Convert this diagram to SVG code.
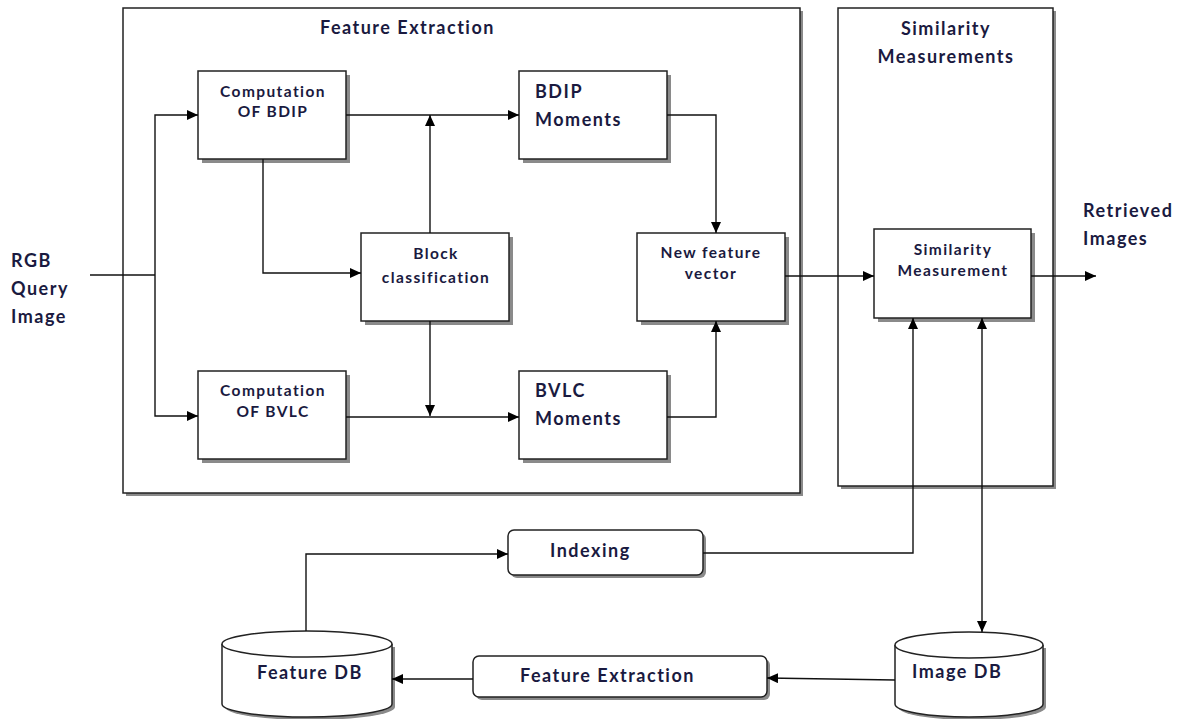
<svg xmlns="http://www.w3.org/2000/svg" width="1187" height="719" viewBox="0 0 1187 719">
<defs>
<marker id="arr" markerUnits="userSpaceOnUse" markerWidth="12" markerHeight="10" refX="11" refY="5" orient="auto">
<path d="M0,0 L11,5 L0,10 Z" fill="#000"/>
</marker>
<marker id="arrs" markerUnits="userSpaceOnUse" markerWidth="12" markerHeight="10" refX="11" refY="5" orient="auto-start-reverse">
<path d="M0,0 L11,5 L0,10 Z" fill="#000"/>
</marker>
</defs>
<style>
.box{fill:#fff;stroke:#222;stroke-width:1.5}
.sh{fill:#8a8a8a}
.t{font-family:Lato,"Liberation Sans",sans-serif;font-weight:bold;fill:#1a1a40}
.s{font-size:15.5px;letter-spacing:1.4px}
.m{font-size:18px;letter-spacing:1.5px}
.c{text-anchor:middle}
.ln{fill:none;stroke:#111;stroke-width:1.4}
</style>
<rect width="1187" height="719" fill="#fff"/>

<g id="feature-extraction-panel">
<rect class="sh" x="126" y="11" width="677" height="485"/>
<rect class="box" x="123" y="8" width="677" height="485"/>
<text class="t m" x="320" y="34">Feature Extraction</text>
</g>

<g id="similarity-panel">
<rect class="sh" x="841" y="11" width="215" height="478"/>
<rect class="box" x="838" y="8" width="215" height="478"/>
<text class="t m c" x="946" y="35">Similarity</text>
<text class="t m c" x="946" y="63">Measurements</text>
</g>

<g id="comp-bdip">
<rect class="sh" x="202" y="75" width="148" height="88"/>
<rect class="box" x="198" y="71" width="148" height="88"/>
<text class="t s c" x="273" y="97">Computation</text>
<text class="t s c" x="273" y="117">OF BDIP</text>
</g>

<g id="bdip-moments">
<rect class="sh" x="523" y="75" width="148" height="88"/>
<rect class="box" x="519" y="71" width="148" height="88"/>
<text class="t m" x="535" y="98">BDIP</text>
<text class="t m" x="535" y="126">Moments</text>
</g>

<g id="block-classification">
<rect class="sh" x="365" y="237" width="148" height="88"/>
<rect class="box" x="361" y="233" width="148" height="88"/>
<text class="t s c" x="436" y="259">Block</text>
<text class="t s c" x="436" y="283">classification</text>
</g>

<g id="new-feature-vector">
<rect class="sh" x="641" y="237" width="148" height="88"/>
<rect class="box" x="637" y="233" width="148" height="88"/>
<text class="t s c" x="711" y="258">New feature</text>
<text class="t s c" x="711" y="279">vector</text>
</g>

<g id="comp-bvlc">
<rect class="sh" x="202" y="375" width="148" height="88"/>
<rect class="box" x="198" y="371" width="148" height="88"/>
<text class="t s c" x="273" y="396">Computation</text>
<text class="t s c" x="273" y="417">OF BVLC</text>
</g>

<g id="bvlc-moments">
<rect class="sh" x="523" y="375" width="148" height="88"/>
<rect class="box" x="519" y="371" width="148" height="88"/>
<text class="t m" x="535" y="397">BVLC</text>
<text class="t m" x="535" y="425">Moments</text>
</g>

<g id="similarity-measurement">
<rect class="sh" x="878" y="233" width="157" height="89"/>
<rect class="box" x="874" y="229" width="157" height="89"/>
<text class="t s c" x="953" y="255">Similarity</text>
<text class="t s c" x="953" y="276">Measurement</text>
</g>

<g id="indexing">
<rect class="sh" x="511" y="533" width="195" height="45" rx="6"/>
<rect class="box" x="508" y="530" width="195" height="45" rx="6"/>
<text class="t m" x="550" y="557">Indexing</text>
</g>

<g id="feature-extraction-db">
<rect class="sh" x="476" y="659" width="294" height="41" rx="6"/>
<rect class="box" x="473" y="656" width="294" height="41" rx="6"/>
<text class="t m" x="520" y="682">Feature Extraction</text>
</g>

<g id="feature-db">
<path class="sh" d="M225,647 L225,707 A85,13 0 0 0 395,707 L395,647 Z"/>
<path class="box" d="M222,644 L222,704 A85,13 0 0 0 392,704 L392,644"/>
<ellipse class="box" cx="307" cy="644" rx="85" ry="13"/>
<text class="t m" x="257" y="679">Feature DB</text>
</g>

<g id="image-db">
<path class="sh" d="M898,648 L898,707 A74,13 0 0 0 1046,707 L1046,648 Z"/>
<path class="box" d="M895,645 L895,704 A74,13 0 0 0 1043,704 L1043,645"/>
<ellipse class="box" cx="969" cy="645" rx="74" ry="13"/>
<text class="t m" x="912" y="678">Image DB</text>
</g>

<g id="labels">
<text class="t m" x="11" y="267">RGB</text>
<text class="t m" x="11" y="295">Query</text>
<text class="t m" x="11" y="323">Image</text>
<text class="t m" x="1083" y="217">Retrieved</text>
<text class="t m" x="1083" y="245">Images</text>
</g>

<g id="connectors">
<path class="ln" d="M90,275 H155"/>
<path class="ln" d="M155,275 V115 H198" marker-end="url(#arr)"/>
<path class="ln" d="M155,275 V416 H198" marker-end="url(#arr)"/>
<path class="ln" d="M346,115 H519" marker-end="url(#arr)"/>
<path class="ln" d="M430,233 V115" marker-end="url(#arr)"/>
<path class="ln" d="M263,159 V273 H361" marker-end="url(#arr)"/>
<path class="ln" d="M430,321 V416" marker-end="url(#arr)"/>
<path class="ln" d="M346,417 H519" marker-end="url(#arr)"/>
<path class="ln" d="M667,115 H716 V233" marker-end="url(#arr)"/>
<path class="ln" d="M667,417 H716 V321" marker-end="url(#arr)"/>
<path class="ln" d="M785,276 H874" marker-end="url(#arr)"/>
<path class="ln" d="M1031,276 H1096" marker-end="url(#arr)"/>
<path class="ln" d="M703,553 H913 V318" marker-end="url(#arr)"/>
<path class="ln" d="M982,318 V632" marker-start="url(#arrs)" marker-end="url(#arrs)"/>
<path class="ln" d="M306,631 V554 H508" marker-end="url(#arr)"/>
<path class="ln" d="M473,679 H392" marker-end="url(#arr)"/>
<path class="ln" d="M895,680 L767,678" marker-end="url(#arr)"/>
</g>
</svg>
